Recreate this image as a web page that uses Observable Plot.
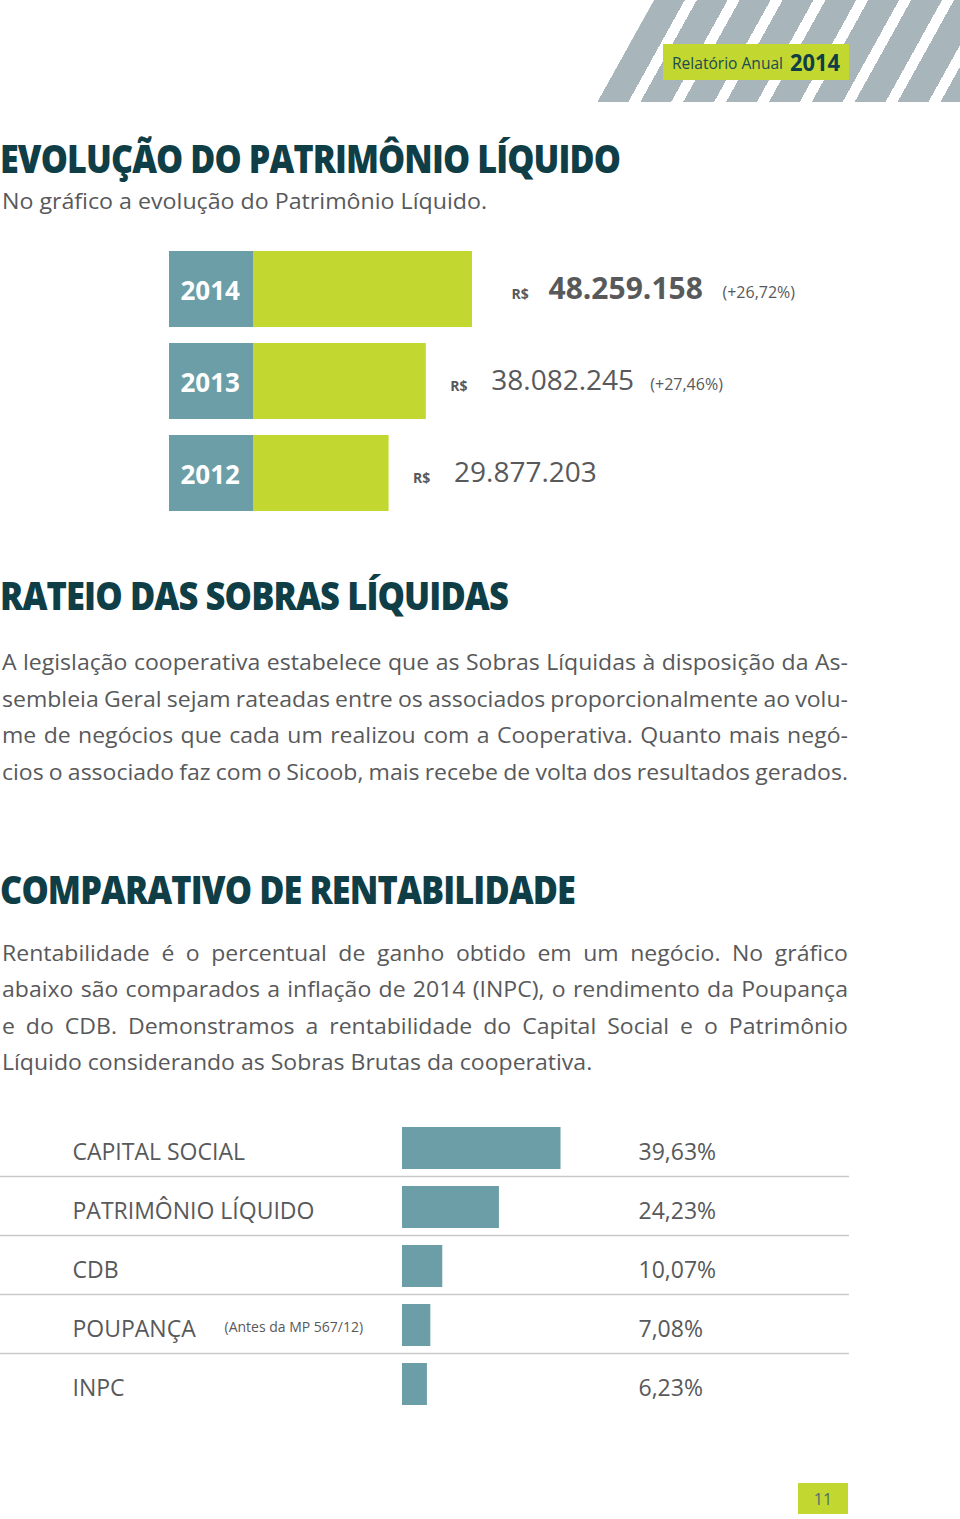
<!DOCTYPE html>
<html><head><meta charset="utf-8">
<script src="https://cdn.jsdelivr.net/npm/d3@7"></script>
<script src="https://cdn.jsdelivr.net/npm/@observablehq/plot@0.6"></script>
<style>
body{margin:0;background:#fff;}
#page{position:relative;width:960px;height:1519px;overflow:hidden;background:#fff;font-family:"Open Sans",sans-serif;}
#stripes{position:absolute;left:597px;top:0;width:363px;height:102px;
 background:repeating-linear-gradient(119deg,#a8b6bc 0 1.8px,#fff 1.8px 12.3px,#a8b6bc 12.3px 37.5px);
 clip-path:polygon(0 100%,57px 0,100% 0,100% 100%);}
.abs{position:absolute;left:0;top:0;}
#c1{position:absolute;left:0;top:240px;}
#c2{position:absolute;left:0;top:1110px;}
</style></head>
<body><div id="page"><div id="stripes"></div><svg id="txt" class="abs" width="960" height="1519"></svg><div id="c1"></div><div id="c2"></div></div>
<script>
// ---- data ----
const years = ["2014", "2013", "2012"];
const patrimonio = [48259158, 38082245, 29877203];
const growthLabels = ["(+26,72%)", "(+27,46%)", ""];
const categories = ["CAPITAL SOCIAL", "PATRIMÔNIO LÍQUIDO", "CDB", "POUPANÇA", "INPC"];
const rentabilidade = [39.63, 24.23, 10.07, 7.08, 6.23];
const notes = ["", "", "", "(Antes da MP 567/12)", ""];

const para1 = [
  "A legislação cooperativa estabelece que as Sobras Líquidas à disposição da As-",
  "sembleia Geral sejam rateadas entre os associados proporcionalmente ao volu-",
  "me de negócios que cada um realizou com a Cooperativa. Quanto mais negó-",
  "cios o associado faz com o Sicoob, mais recebe de volta dos resultados gerados."
];
const para2 = [
  "Rentabilidade é o percentual de ganho obtido em um negócio. No gráfico",
  "abaixo são comparados a inflação de 2014 (INPC), o rendimento da Poupança",
  "e do CDB. Demonstramos a rentabilidade do Capital Social e o Patrimônio",
  "Líquido considerando as Sobras Brutas da cooperativa."
];

const TEAL = "#6b9ea6", GREEN = "#c2d830", GRAY = "#58595b", DARK = "#0f3e46";
const FONT = '"Open Sans", sans-serif';
const fmtBR = n => d3.format(",")(n).replace(/,/g, ".");
const fmtPct = v => d3.format(".2f")(v).replace(".", ",") + "%";

// ---- text layer ----
const NS = "http://www.w3.org/2000/svg";
const svg = document.getElementById("txt");
function el(tag, attrs, parent) {
  const e = document.createElementNS(NS, tag);
  for (const k in attrs) e.setAttribute(k, attrs[k]);
  (parent || svg).appendChild(e);
  return e;
}
function txt(x, y, s, attrs, parent) {
  const t = el("text", Object.assign({x, y, "font-family": FONT}, attrs), parent);
  t.textContent = s;
  return t;
}
function fit(t, w) { t.setAttribute("textLength", w); t.setAttribute("lengthAdjust", "spacingAndGlyphs"); }

// badge
el("rect", {x: 663, y: 44, width: 186, height: 36, fill: GREEN});
fit(txt(672, 69, "Relatório Anual", {"font-size": 16, fill: "#1c4a50"}), 111);
fit(txt(790, 71, "2014", {"font-size": 23, "font-weight": 700, fill: DARK}), 50);

// titles
const TFS = 39;
fit(txt(0, 173, "EVOLUÇÃO DO PATRIMÔNIO LÍQUIDO", {"font-size": TFS, "font-weight": 800, fill: DARK, "letter-spacing": -1}), 620);
fit(txt(2, 209, "No gráfico a evolução do Patrimônio Líquido.", {"font-size": 22, fill: GRAY}), 485);
fit(txt(0, 610, "RATEIO DAS SOBRAS LÍQUIDAS", {"font-size": TFS, "font-weight": 800, fill: DARK, "letter-spacing": -1}), 508);
fit(txt(0, 904, "COMPARATIVO DE RENTABILIDADE", {"font-size": TFS, "font-weight": 800, fill: DARK, "letter-spacing": -1}), 575);

// paragraphs
const PFS = 22.5;
const meas = txt(0, -100, "", {"font-size": PFS});
function mw(s) { meas.textContent = s; return meas.getComputedTextLength(); }
const ks = para1.map(l => 846 / mw(l)).concat([588 / mw(para2[3])]);
const K = d3.mean(ks);
function paragraph(lines, baselines, justify) {
  const g = el("g", {transform: `scale(${K},1)`});
  const x0 = 2 / K, T = 846 / K;
  lines.forEach((line, i) => {
    const t = el("text", {y: baselines[i], "font-family": FONT, "font-size": PFS, fill: GRAY}, g);
    if (!justify[i]) { t.setAttribute("x", x0); t.textContent = line; return; }
    const words = line.split(" ");
    const ws = words.map(mw);
    const gap = (T - d3.sum(ws)) / (words.length - 1);
    let x = x0;
    words.forEach((w, j) => {
      const sp = el("tspan", {x}, t); sp.textContent = w; x += ws[j] + gap;
    });
  });
}
paragraph(para1, [670, 707, 743, 780], [true, true, true, true]);
paragraph(para2, [961, 997, 1034, 1070], [true, true, true, false]);
meas.remove();

// page number
el("rect", {x: 798, y: 1483, width: 50, height: 31, fill: GREEN});
txt(823, 1505, "11", {"font-size": 16, fill: "#4f6b70", "text-anchor": "middle"});

// ---- chart 1: Patrimônio Líquido ----
const pl = years.map((year, i) => ({year, value: patrimonio[i], label: fmtBR(patrimonio[i]), growth: growthLabels[i], bold: i === 0}));
const hi = pl.filter(d => d.bold), lo = pl.filter(d => !d.bold);
const chart1 = Plot.plot({
  width: 960, height: 290, margin: 0,
  style: {fontFamily: FONT, background: "transparent", overflow: "visible"},
  x: {domain: [0, d3.max(patrimonio)], range: [253, 472], axis: null},
  y: {domain: years, range: [10, 273], paddingInner: 0.172, paddingOuter: 0, axis: null},
  marks: [
    Plot.barX(pl, {x1: 0, x2: 0, y: "year", insetLeft: -84, fill: TEAL}),
    Plot.barX(pl, {x: "value", y: "year", fill: GREEN}),
    Plot.text(pl, {x: 0, y: "year", text: "year", dx: -73, dy: 2, textAnchor: "start", fill: "#fff", fontWeight: "bold", fontSize: 26}),
    // highlighted latest year
    Plot.text(hi, {x: "value", y: "year", text: () => "R$", dx: 39, dy: 5, textAnchor: "start", fill: GRAY, fontWeight: "bold", fontSize: 14}),
    Plot.text(hi, {x: "value", y: "year", text: "label", dx: 76, textAnchor: "start", fill: GRAY, fontWeight: "bold", fontSize: 30}),
    Plot.text(hi.filter(d => d.growth), {x: "value", y: "year", text: "growth", dx: 250, dy: 3, textAnchor: "start", fill: GRAY, fontSize: 16}),
    // earlier years
    Plot.text(lo, {x: "value", y: "year", text: () => "R$", dx: 24, dy: 5, textAnchor: "start", fill: GRAY, fontWeight: "bold", fontSize: 14}),
    Plot.text(lo, {x: "value", y: "year", text: "label", dx: 65, textAnchor: "start", fill: GRAY, fontSize: 28}),
    Plot.text(lo.filter(d => d.growth), {x: "value", y: "year", text: "growth", dx: 224, dy: 3, textAnchor: "start", fill: GRAY, fontSize: 16})
  ]
});
document.getElementById("c1").appendChild(chart1);

// ---- chart 2: Comparativo de rentabilidade ----
const rt = categories.map((cat, i) => ({cat, value: rentabilidade[i], label: fmtPct(rentabilidade[i]), note: notes[i]}));
const chart2 = Plot.plot({
  width: 960, height: 310, marginLeft: 0, marginRight: 111, marginTop: 0, marginBottom: 0,
  style: {fontFamily: FONT, background: "transparent", overflow: "visible"},
  x: {domain: [0, 100], range: [402, 802], axis: null},
  y: {domain: categories, range: [16, 295.3], paddingInner: 0.29, paddingOuter: 0, axis: null},
  marks: [
    Plot.ruleY(categories.slice(1), {y: d => d, dy: -31, stroke: "#c9c9c9", strokeWidth: 1.5}),
    Plot.barX(rt, {x: "value", y: "cat", fill: TEAL}),
    Plot.text(rt, {y: "cat", text: "cat", frameAnchor: "left", dx: 72, dy: 4, textAnchor: "start", fill: GRAY, fontSize: 23}),
    Plot.text(rt.filter(d => d.note), {y: "cat", text: "note", frameAnchor: "left", dx: 224, dy: 2, textAnchor: "start", fill: GRAY, fontSize: 14}),
    Plot.text(rt, {y: "cat", text: "label", frameAnchor: "left", dx: 638, dy: 4, textAnchor: "start", fill: GRAY, fontSize: 23})
  ]
});
document.getElementById("c2").appendChild(chart2);
</script>
</body></html>
